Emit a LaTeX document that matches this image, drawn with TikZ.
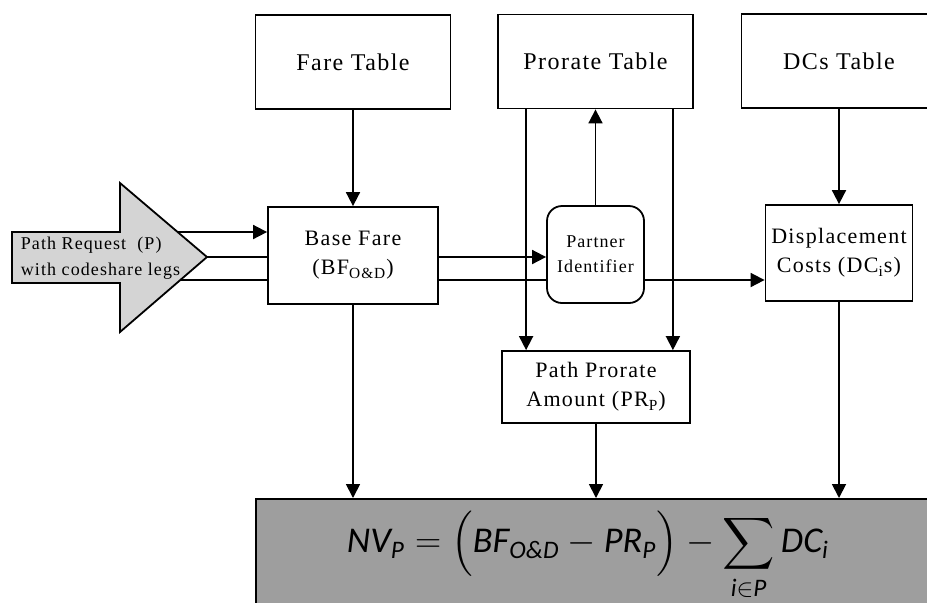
\documentclass[tikz,border=0pt]{standalone}
\usepackage{amsmath}
\usepackage{fontspec}
\usepackage{tikz}
\usetikzlibrary{arrows.meta,backgrounds}
\newfontfamily\boxfont[LetterSpace=6]{Liberation Serif}
\newfontfamily\formfont{Carlito}
\newcommand{\fv}[1]{\text{\formfont\itshape #1}}

\begin{document}
\begin{tikzpicture}[
  x=0.5pt, y=-0.5pt,
  line width=0.9pt,
  tablebox/.style={draw,rectangle,minimum width=97.5pt,minimum height=47pt,fill=white,
                   font=\boxfont\fontsize{12}{14}\selectfont},
  procbox/.style={draw,rectangle,fill=white,align=center,inner sep=2pt,
                  font=\boxfont\fontsize{11}{14.5}\selectfont},
  arr/.style={-{Triangle[length=7pt,width=7pt]},line width=0.9pt}
]
\useasboundingbox (0,0) rectangle (927,602);
\clip (0,0) rectangle (927,602);

% Tables
\node[tablebox] (fare) at (353,62) {Fare Table};
\node[tablebox] (prorate) at (595.5,61.5) {Prorate Table};
\node[tablebox] (dcs) at (839,61) {DCs Table};

% Fare, partner and cost boxes
\node[procbox,minimum width=85pt,minimum height=48.5pt] (base) at (353,255.5) {Base Fare\\(BF\textsubscript{O\&D})};
\node[procbox,rounded corners=7.5pt,minimum width=48.5pt,minimum height=48.5pt,
      font=\boxfont\fontsize{9}{12.5}\selectfont] (partner) at (595.5,254.5) {Partner\\Identifier};
\node[procbox,minimum width=73.5pt,minimum height=48pt] (disp) at (839,253) {Displacement\\Costs (DC\textsubscript{i}s)};
\node[procbox,minimum width=94pt,minimum height=36pt] (pathpro) at (596,387) {Path Prorate\\Amount (PR\textsubscript{P})};

% Net value
\node[draw,rectangle,anchor=north west,fill=black!38,minimum width=360pt,minimum height=60pt] (netbox) at (255,498) {};
\node[font=\LARGE,scale=1.05,transform shape] (nv) at (588,556)
  {$\fv{NV}_{\fv{P}} = \Bigl(\fv{BF}_{\fv{O\&D}} - \fv{PR}_{\fv{P}}\Bigr) - \displaystyle\sum_{\fv{i}\in\fv{P}}\fv{DC}_{\fv{i}}$};

% Path request
\draw[fill=black!17] (12,232) -- (120,232) -- (120,183) -- (207,257) -- (120,332) -- (120,283) -- (12,283) -- cycle;
\node[anchor=west,align=left,inner sep=0pt,font=\boxfont\fontsize{9}{13}\selectfont] (req) at (20,258)
  {Path Request~~(P)\\with codeshare legs};
\coordinate (legA) at (120,232);
\coordinate (tip) at (207,257);
\coordinate (legC) at (120,280);

% Arrows
\begin{scope}[on background layer]
\draw[arr] (legA) -- (legA -| base.west);
\draw[arr] (tip) -- (tip -| partner.west);
\draw[arr] (legC) -- (legC -| disp.west);
\end{scope}
\draw[arr] (fare) -- (base);
\draw[arr] (partner) -- (prorate);
\draw[arr] (dcs) -- (disp);
\draw[arr] ([xshift=12.5pt]pathpro.north west |- prorate.south) -- ([xshift=12.5pt]pathpro.north west);
\draw[arr] ([xshift=-9pt]pathpro.north east |- prorate.south) -- ([xshift=-9pt]pathpro.north east);
\draw[arr] (base) -- (base |- netbox.north);
\draw[arr] (pathpro) -- (pathpro |- netbox.north);
\draw[arr] (disp) -- (disp |- netbox.north);

\end{tikzpicture}
\end{document}
